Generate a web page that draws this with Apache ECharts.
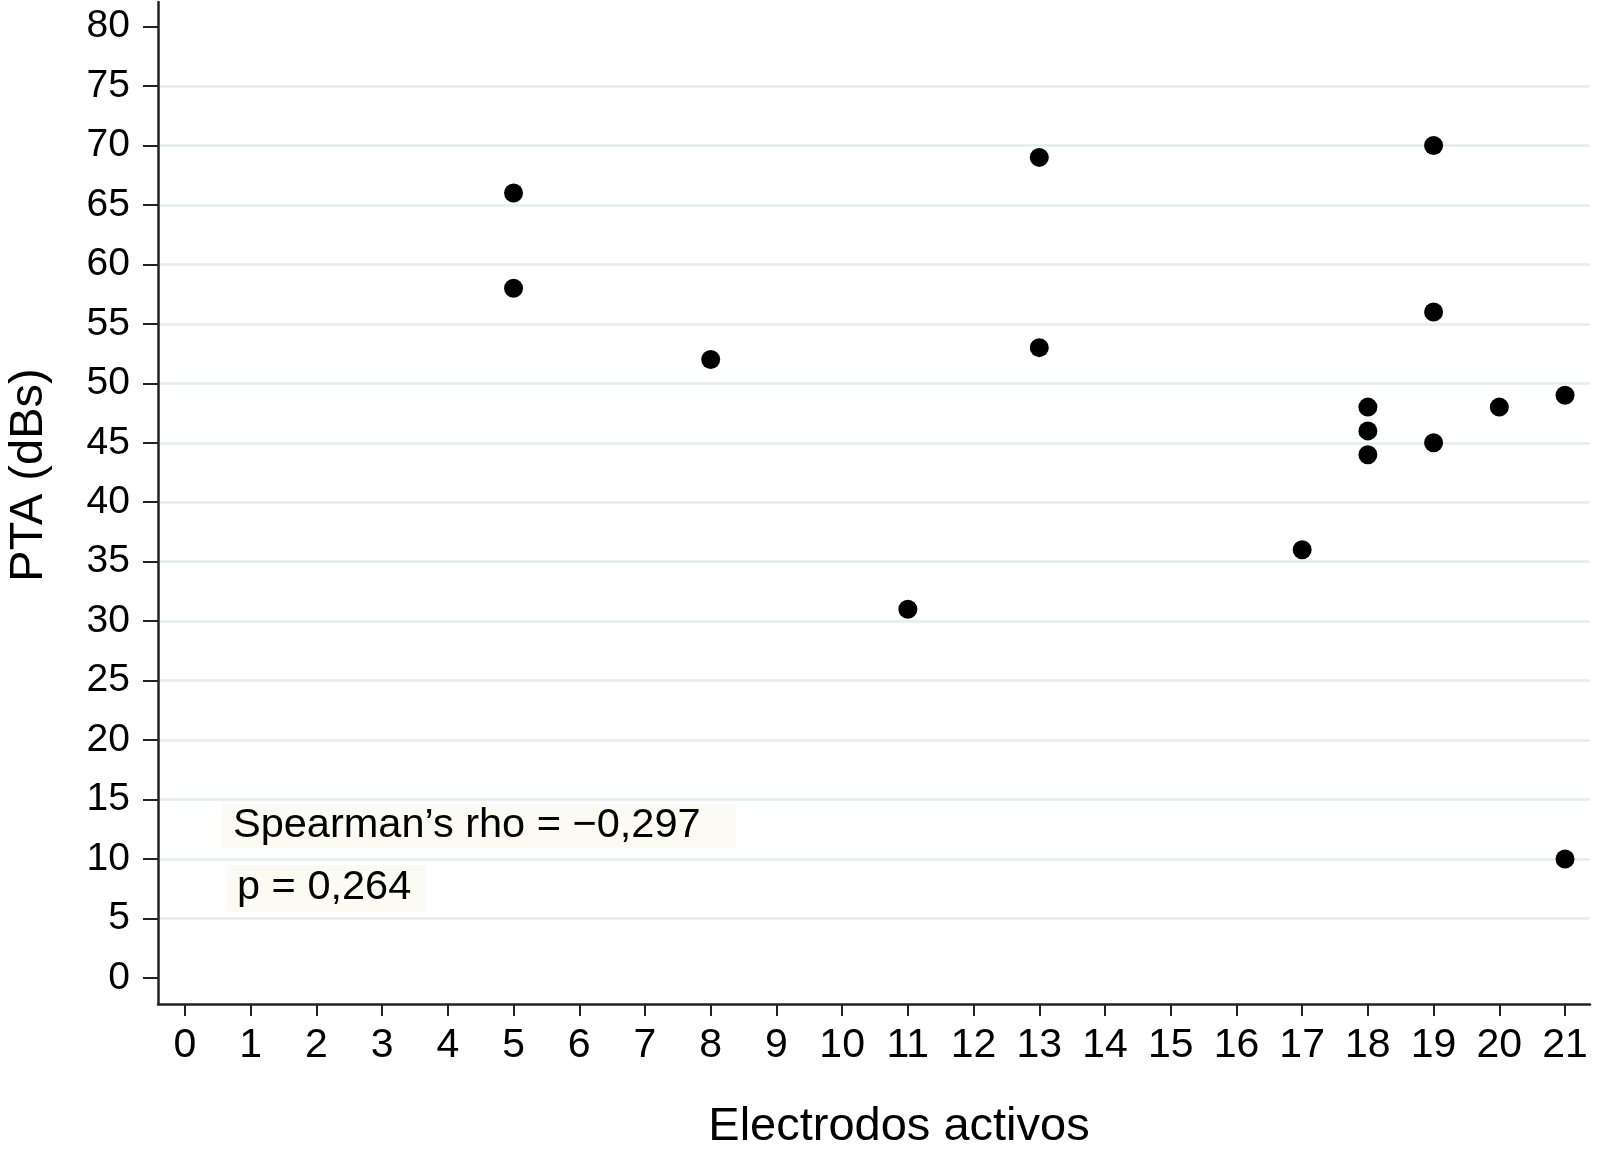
<!DOCTYPE html>
<html><head><meta charset="utf-8">
<script src="https://cdn.jsdelivr.net/npm/echarts@6/dist/echarts.min.js"></script>
<style>html,body{margin:0;padding:0;background:#fff}#c{width:1602px;height:1156px}</style>
</head><body><div id="c"></div>
<script>
// ---- data ----
const electrodes = [5, 5, 8, 11, 13, 13, 17, 18, 18, 18, 19, 19, 19, 20, 21, 21];
const pta        = [66, 58, 52, 31, 69, 53, 36, 48, 46, 44, 70, 56, 45, 48, 49, 10];
const xTicks = [0,1,2,3,4,5,6,7,8,9,10,11,12,13,14,15,16,17,18,19,20,21];
const yTicks = [0,5,10,15,20,25,30,35,40,45,50,55,60,65,70,75,80];
const gridValues = [5,10,15,20,25,30,35,40,45,50,55,60,65,70,75];
const xTitle = 'Electrodos activos';
const yTitle = 'PTA (dBs)';
const annotationRho = 'Spearman\u2019s rho = \u22120,297';
const annotationP = 'p = 0,264';

const FONT = "'Liberation Sans', Arial, Helvetica, sans-serif";
const points = electrodes.map((x, i) => [x, pta[i]]);

const chart = echarts.init(document.getElementById('c'), null, {renderer: 'canvas'});
chart.setOption({
  animation: false,
  backgroundColor: '#ffffff',
  grid: {left: 158, right: 12, top: 2, bottom: 152, containLabel: false},
  xAxis: {
    type: 'value', min: -0.41, max: 21.38, z: 10,
    axisLine: {show: true, onZero: false, lineStyle: {color: '#222', width: 2.5}},
    axisTick: {show: true, customValues: xTicks, length: 12, lineStyle: {color: '#222', width: 2}},
    axisLabel: {show: true, customValues: xTicks, fontSize: 41, margin: 21, color: '#000', fontFamily: FONT},
    splitLine: {show: false}
  },
  yAxis: {
    type: 'value', min: -2.2, max: 82.07, z: 10,
    axisLine: {show: true, onZero: false, lineStyle: {color: '#222', width: 2.5}},
    axisTick: {show: true, customValues: yTicks, length: 15, lineStyle: {color: '#222', width: 2}},
    axisLabel: {show: true, customValues: yTicks, fontSize: 39, margin: 28, color: '#000', fontFamily: FONT},
    splitLine: {show: false}
  },
  series: [{
    type: 'scatter',
    z: 3,
    data: points,
    symbol: 'circle',
    symbolSize: 19,
    itemStyle: {color: '#000', opacity: 1},
    markLine: {
      z: 1,
      silent: true,
      symbol: ['none', 'none'],
      label: {show: false},
      lineStyle: {color: '#e3ecef', width: 2.5, type: 'solid'},
      data: gridValues.map(v => ({yAxis: v}))
    }
  }],
  graphic: [
    {type: 'text', x: 222, y: 804, z: 20,
     style: {text: annotationRho, font: '41.5px ' + FONT, fill: '#000', backgroundColor: '#fbfaf3',
             padding: [6, 36, 6, 11], lineHeight: 32}},
    {type: 'text', x: 227, y: 865, z: 20,
     style: {text: annotationP, font: '41.5px ' + FONT, fill: '#000', backgroundColor: '#fbfaf3',
             padding: [7, 14, 8, 10], lineHeight: 32}},
    {type: 'text', x: 899, y: 1127, z: 20,
     style: {text: xTitle, font: '47px ' + FONT, fill: '#000', align: 'center', verticalAlign: 'middle'}},
    {type: 'text', x: 29, y: 475, rotation: Math.PI / 2, z: 20,
     style: {text: yTitle, font: '47px ' + FONT, fill: '#000', align: 'center', verticalAlign: 'middle'}}
  ]
});
</script>
</body></html>
